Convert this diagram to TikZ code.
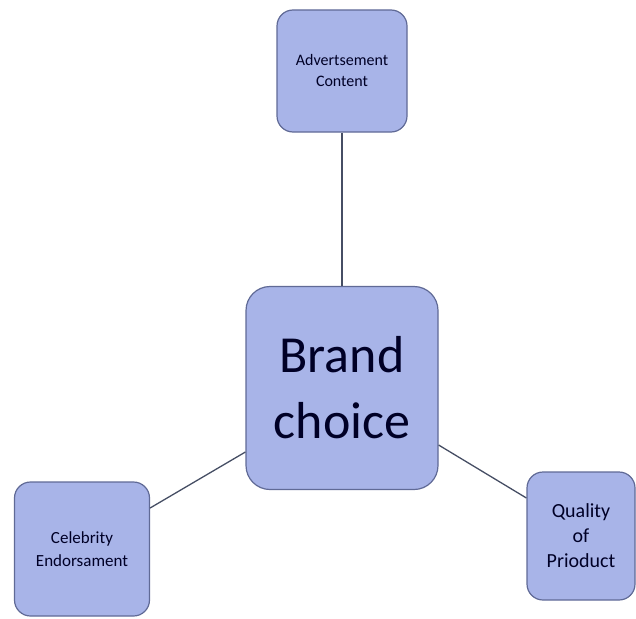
\documentclass[tikz,border=0pt]{standalone}
\usepackage{fontspec}
\setmainfont{Carlito}
\definecolor{boxfill}{RGB}{168,180,232}
\definecolor{boxedge}{RGB}{96,106,150}
\definecolor{linkcol}{RGB}{70,78,100}
\tikzset{
  box/.style={draw=boxedge, line width=1.2pt, fill=boxfill, rounded corners=16pt,
    inner sep=0pt, align=center, text=black!85!blue},
  link/.style={draw=linkcol, line width=1.3pt}
}

\begin{document}
\begin{tikzpicture}[x=1pt,y=-1pt]

    \useasboundingbox (0,0) rectangle (636,618);

    % boxes
    \node[box, minimum width=130pt, minimum height=122pt, font=\fontsize{16}{21}\selectfont] (advert) at (342,71) {Advertsement\\Content};
    \node[box, minimum width=192pt, minimum height=203pt, rounded corners=24pt, font=\fontsize{52}{66}\selectfont] (brand) at (342,388) {Brand\\choice};
    \node[box, minimum width=135pt, minimum height=134pt, font=\fontsize{17}{23}\selectfont] (celeb) at (82,549) {Celebrity\\Endorsament};
    \node[box, minimum width=108pt, minimum height=128pt, font=\fontsize{20}{25}\selectfont] (quality) at (581,536) {Quality\\of\\Prioduct};

    % link ends
    \coordinate (brandL) at ([yshift=-64pt]brand.west);
    \coordinate (brandR) at ([yshift=-57pt]brand.east);
    \coordinate (celebR) at ([yshift=41pt]celeb.east);
    \coordinate (qualityL) at ([yshift=38pt]quality.west);

    % links
    \draw[link] (advert.south) -- (brand.north);
    \draw[link] (brandL) -- (celebR); % brand -> celebrity
    \draw[link] (brandR) -- (qualityL); % brand -> quality

\end{tikzpicture}
\end{document}
